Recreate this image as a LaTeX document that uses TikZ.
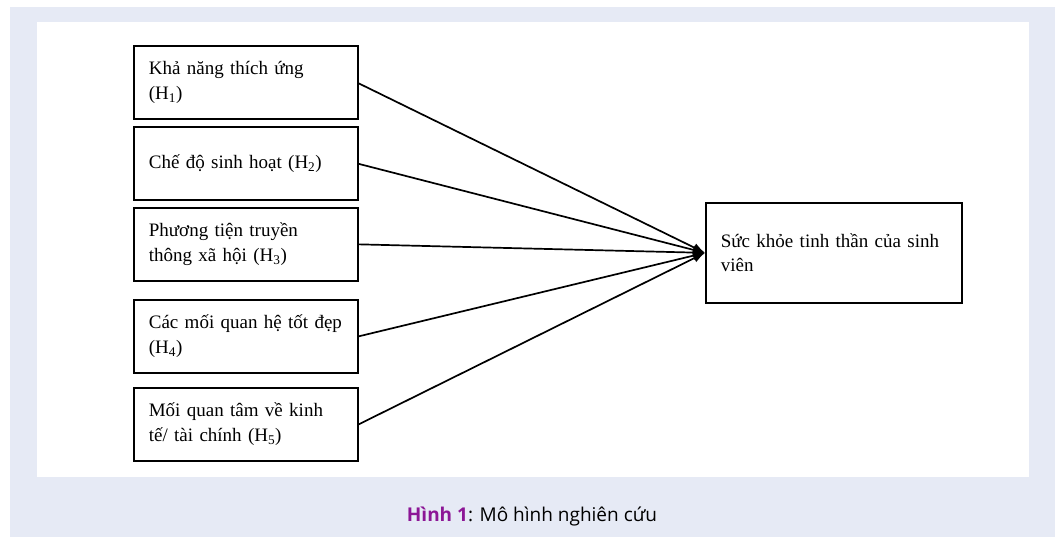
\documentclass[tikz,border=0pt]{standalone}
\usepackage{fontspec}
\setmainfont{Liberation Serif}
\newfontfamily\capfont{Open Sans}
\usetikzlibrary{arrows.meta}
\definecolor{panelbg}{RGB}{230,234,245}
\definecolor{hinhpurple}{RGB}{140,22,150}
\tikzset{
  varbox/.style={draw=black, line width=1.7pt, minimum width=224pt, minimum height=73pt,
    text width=194pt, align=left, inner xsep=15pt, inner ysep=0pt, font=\fontsize{19}{24.5}\selectfont, anchor=north west},
  conn/.style={line width=1.7pt, -{Latex[length=12pt,width=9pt]}}
}
\begin{document}
\begin{tikzpicture}[x=1pt,y=-1pt]
\useasboundingbox (0,0) rectangle (1060,537);
\fill[white] (0,0) rectangle (1060,537);
\fill[panelbg] (10,7) rectangle (1055,537);
\fill[white] (37,22) rectangle (1029,477);
\node[varbox] (h1) at (133,45) {\mbox{Khả năng thích ứng}\\(H\textsubscript{1})};
\node[varbox] (h2) at (133,126) {\mbox{Chế độ sinh hoạt (H\textsubscript{2})}};
\node[varbox] (h3) at (133,207) {\mbox{Phương tiện truyền}\\\mbox{thông xã hội (H\textsubscript{3})}};
\node[varbox] (h4) at (133,299) {\mbox{Các mối quan hệ tốt đẹp}\\(H\textsubscript{4})};
\node[varbox] (h5) at (133,387) {\mbox{Mối quan tâm về kinh}\\\mbox{tế/ tài chính (H\textsubscript{5})}};
\node[varbox, minimum width=256pt, minimum height=100pt, text width=226pt] (sk) at (705,202) {\mbox{Sức khỏe tinh thần của sinh}\\viên};
\coordinate (tip) at (sk.west);
\draw[conn] ([yshift=-1pt]h1.east) -- (tip);
\draw[conn] ([yshift=-0.5pt]h2.east) -- (tip);
\draw[conn] (h3.east) -- (tip);
\draw[conn] (h4.east) -- (tip);
\draw[conn] (h5.east) -- (tip);
\node[font=\capfont\fontsize{19}{22}\selectfont] (cap) at (532,517) {\textcolor{hinhpurple}{\bfseries Hình 1}: Mô hình nghiên cứu};
\end{tikzpicture}
\end{document}
